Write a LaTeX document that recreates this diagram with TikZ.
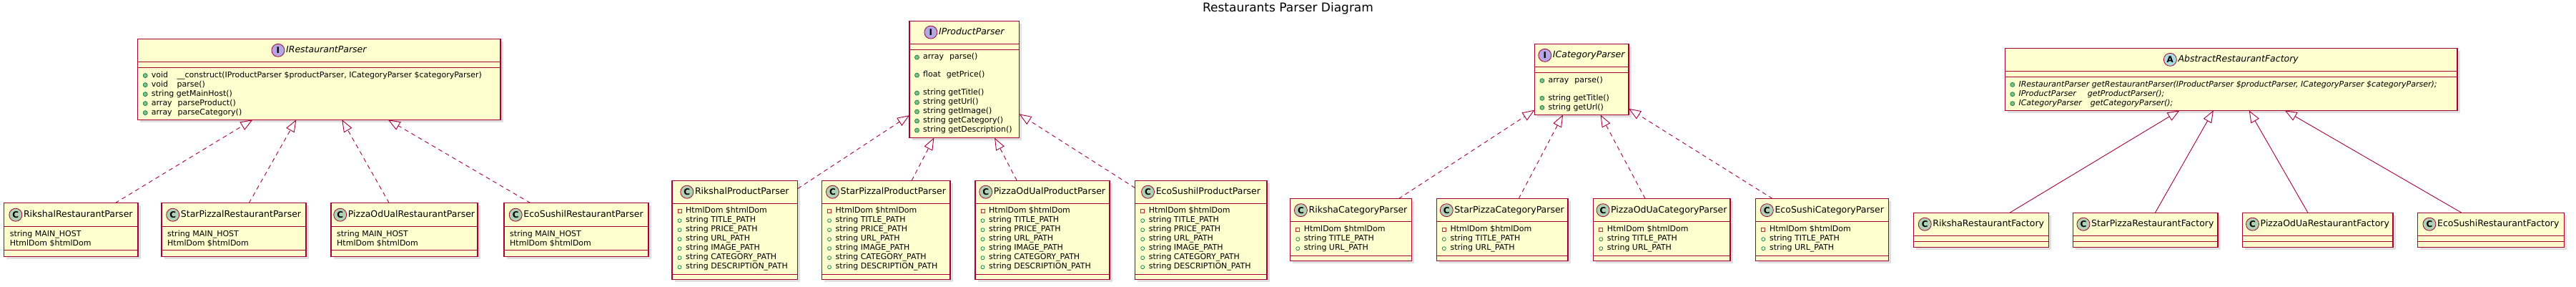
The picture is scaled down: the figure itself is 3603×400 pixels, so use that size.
\documentclass[tikz,border=0pt]{standalone}
\usepackage{fontspec}
\setmainfont{DejaVu Sans}
\usepackage{tikz}
\usetikzlibrary{positioning}
\usetikzlibrary{arrows.meta}
\usetikzlibrary{shadows}

\definecolor{umlred}{HTML}{A80036}
\definecolor{umlfill}{HTML}{FEFECE}
\definecolor{iconC}{HTML}{ADD1B2}
\definecolor{iconI}{HTML}{B4A7E5}
\definecolor{iconA}{HTML}{A9DCDF}
\definecolor{pubdark}{HTML}{038048}
\definecolor{pubfill}{HTML}{84BE84}
\definecolor{privred}{HTML}{C82930}

\tikzset{
    classbox/.style={draw=umlred, fill=umlfill, line width=1.1pt,
        inner sep=0pt, outer sep=0pt,
        drop shadow={shadow xshift=3.5pt, shadow yshift=-3.5pt, fill=black, opacity=0.12}},
    classname/.style={font=\fontsize{12.5}{14}\selectfont, inner sep=0pt,
        text height=9.5pt, text depth=2.5pt},
    ifacename/.style={classname, font=\fontsize{12.5}{14}\selectfont\itshape},
    classicon/.style={circle, draw=umlred, line width=0.8pt, minimum size=18pt,
        inner sep=0pt, font=\fontsize{12}{12}\selectfont\bfseries},
    member/.style={anchor=west, inner sep=0pt, font=\fontsize{11}{13}\selectfont,
        text height=8pt, text depth=2.5pt},
    pubfield/.style={circle, draw=pubdark, line width=0.7pt, minimum size=5pt, inner sep=0pt},
    privfield/.style={rectangle, draw=privred, line width=0.7pt, minimum size=5pt, inner sep=0pt},
    pubmethod/.style={circle, draw=pubdark, fill=pubfill, line width=0.7pt, minimum size=6pt, inner sep=0pt},
    sepline/.style={draw=umlred, line width=1.1pt},
    realize/.style={draw=umlred, line width=0.9pt, dash pattern=on 6pt off 5pt,
        -{Triangle[open, length=17pt, width=13pt]}},
    inherit/.style={draw=umlred, line width=0.9pt,
        -{Triangle[open, length=17pt, width=13pt]}}
}

\begin{document}
\begin{tikzpicture}[x=1pt, y=-1pt]
        \useasboundingbox (0,0) rectangle (3603,400);

        \node[font=\fontsize{17}{20}\selectfont] (title) at (1801.5, 11.5)
        {Restaurants Parser Diagram};

        % interfaces and abstract class
        \node[classbox, minimum width=507.3pt, minimum height=113pt] (irp) at (446.35, 110.8) {};
        \node[ifacename] (irp-t) at ([xshift=10pt, yshift=-16pt]irp.north) {IRestaurantParser};
        \node[classicon, fill=iconI] at ([xshift=-11pt]irp-t.west) {I};
        \draw[sepline] ([yshift=-32pt]irp.north west) -- ([yshift=-32pt]irp.north east);
        \draw[sepline] ([yshift=-40pt]irp.north west) -- ([yshift=-40pt]irp.north east);
        \foreach \k/\txt in {0/{void\hspace{12.5pt}\_\_construct(IProductParser \$productParser, ICategoryParser \$categoryParser)},
                             1/{void\hspace{12.5pt}parse()},
                             2/{string getMainHost()},
                             3/{array\hspace{8pt}parseProduct()},
                             4/{array\hspace{8pt}parseCategory()}}
        {
            \node[pubmethod] at ([xshift=10.5pt, yshift={-51.3pt-13pt*\k}]irp.north west) {};
            \node[member] at ([xshift=19pt, yshift={-51.3pt-13pt*\k}]irp.north west) {\txt};
        }

        \node[classbox, minimum width=153.5pt, minimum height=163.4pt] (ipp) at (1348.75, 110.8) {};
        \node[ifacename] (ipp-t) at ([xshift=10pt, yshift=-16pt]ipp.north) {IProductParser};
        \node[classicon, fill=iconI] at ([xshift=-11pt]ipp-t.west) {I};
        \draw[sepline] ([yshift=-32.4pt]ipp.north west) -- ([yshift=-32.4pt]ipp.north east);
        \draw[sepline] ([yshift=-40pt]ipp.north west) -- ([yshift=-40pt]ipp.north east);
        \foreach \y/\txt in {51/{array\hspace{8pt}parse()}, 76/{float\hspace{8pt}getPrice()},
                             101/{string getTitle()}, 114/{string getUrl()}, 127/{string getImage()},
                             140/{string getCategory()}, 153/{string getDescription()}}
        {
            \node[pubmethod] at ([xshift=10.5pt, yshift=-\y pt]ipp.north west) {};
            \node[member] at ([xshift=19pt, yshift=-\y pt]ipp.north west) {\txt};
        }

        \node[classbox, minimum width=131.6pt, minimum height=99pt] (icp) at (2212.2, 110.8) {};
        \node[ifacename] (icp-t) at ([xshift=10pt, yshift=-16pt]icp.north) {ICategoryParser};
        \node[classicon, fill=iconI] at ([xshift=-11pt]icp-t.west) {I};
        \draw[sepline] ([yshift=-32pt]icp.north west) -- ([yshift=-32pt]icp.north east);
        \draw[sepline] ([yshift=-40.4pt]icp.north west) -- ([yshift=-40.4pt]icp.north east);
        \foreach \y/\txt in {51.4/{array\hspace{8pt}parse()}, 76/{string getTitle()}, 89/{string getUrl()}}
        {
            \node[pubmethod] at ([xshift=10.5pt, yshift=-\y pt]icp.north west) {};
            \node[member] at ([xshift=19pt, yshift=-\y pt]icp.north west) {\txt};
        }

        \node[classbox, minimum width=632.7pt, minimum height=87pt] (arf) at (3120.65, 110.8) {};
        \node[ifacename] (arf-t) at ([xshift=10pt, yshift=-16pt]arf.north) {AbstractRestaurantFactory};
        \node[classicon, fill=iconA] at ([xshift=-11pt]arf-t.west) {A};
        \draw[sepline] ([yshift=-32pt]arf.north west) -- ([yshift=-32pt]arf.north east);
        \draw[sepline] ([yshift=-40.4pt]arf.north west) -- ([yshift=-40.4pt]arf.north east);
        \foreach \y/\txt in {51/{IRestaurantParser getRestaurantParser(IProductParser \$productParser, ICategoryParser \$categoryParser);},
                             64.4/{IProductParser\hspace{16pt}getProductParser();},
                             77.4/{ICategoryParser\hspace{12pt}getCategoryParser();}}
        {
            \node[pubmethod] at ([xshift=10.5pt, yshift=-\y pt]arf.north west) {};
            \node[member, font=\fontsize{11}{13}\selectfont\itshape] at ([xshift=19pt, yshift=-\y pt]arf.north west) {\txt};
        }

        % restaurant parsers
        \foreach \n/\x/\w/\t in {rp1/99.3/187.4/RikshalRestaurantParser,
                                 rp2/327/202/StarPizzalRestaurantParser,
                                 rp3/565.5/205/PizzaOdUalRestaurantParser,
                                 rp4/806/202/EcoSushilRestaurantParser}
        {
            \node[classbox, minimum width=\w pt, minimum height=75pt] (\n) at (\x, 321.2) {};
            \node[classname] (\n-t) at ([xshift=10pt, yshift=-16.5pt]\n.north) {\t};
            \node[classicon, fill=iconC] at ([xshift=-11pt]\n-t.west) {C};
            \draw[sepline] ([yshift=-33pt]\n.north west) -- ([yshift=-33pt]\n.north east);
            \draw[sepline] ([yshift=-66pt]\n.north west) -- ([yshift=-66pt]\n.north east);
            \node[member] at ([xshift=8pt, yshift=-44pt]\n.north west) {string MAIN\_HOST};
            \node[member] at ([xshift=8pt, yshift=-57pt]\n.north west) {HtmlDom \$htmlDom};
        }

        % product parsers
        \foreach \n/\x/\w/\t in {pp1/1027.8/175.6/RikshalProductParser,
                                 pp2/1239.25/179.5/StarPizzalProductParser,
                                 pp3/1458/188/PizzaOdUalProductParser,
                                 pp4/1679.85/184.3/EcoSushilProductParser}
        {
            \node[classbox, minimum width=\w pt, minimum height=138pt] (\n) at (\x, 321.2) {};
            \node[classname] (\n-t) at ([xshift=10pt, yshift=-16pt]\n.north) {\t};
            \node[classicon, fill=iconC] at ([xshift=-11pt]\n-t.west) {C};
            \draw[sepline] ([yshift=-32pt]\n.north west) -- ([yshift=-32pt]\n.north east);
            \draw[sepline] ([yshift=-131pt]\n.north west) -- ([yshift=-131pt]\n.north east);
            \node[privfield] at ([xshift=10.5pt, yshift=-43pt]\n.north west) {};
            \node[member] at ([xshift=19pt, yshift=-43pt]\n.north west) {HtmlDom \$htmlDom};
            \foreach \k/\f in {1/TITLE, 2/PRICE, 3/URL, 4/IMAGE, 5/CATEGORY, 6/DESCRIPTION}
            {
                \node[pubfield] at ([xshift=10.5pt, yshift={-43pt-13pt*\k}]\n.north west) {};
                \node[member] at ([xshift=19pt, yshift={-43pt-13pt*\k}]\n.north west) {string \f\_PATH};
            }
        }

        % category parsers
        \foreach \n/\x/\w/\t in {cp1/1889.45/169.5/RikshaCategoryParser,
                                 cp2/2101.15/183.7/StarPizzaCategoryParser,
                                 cp3/2324.35/191.3/PizzaOdUaCategoryParser,
                                 cp4/2548.75/185.9/EcoSushiCategoryParser}
        {
            \node[classbox, minimum width=\w pt, minimum height=87pt] (\n) at (\x, 321.2) {};
            \node[classname] (\n-t) at ([xshift=10pt, yshift=-16pt]\n.north) {\t};
            \node[classicon, fill=iconC] at ([xshift=-11pt]\n-t.west) {C};
            \draw[sepline] ([yshift=-32pt]\n.north west) -- ([yshift=-32pt]\n.north east);
            \draw[sepline] ([yshift=-80pt]\n.north west) -- ([yshift=-80pt]\n.north east);
            \node[privfield] at ([xshift=10.5pt, yshift=-43.5pt]\n.north west) {};
            \node[member] at ([xshift=19pt, yshift=-43.5pt]\n.north west) {HtmlDom \$htmlDom};
            \node[pubfield] at ([xshift=10.5pt, yshift=-56.5pt]\n.north west) {};
            \node[member] at ([xshift=19pt, yshift=-56.5pt]\n.north west) {string TITLE\_PATH};
            \node[pubfield] at ([xshift=10.5pt, yshift=-69.5pt]\n.north west) {};
            \node[member] at ([xshift=19pt, yshift=-69.5pt]\n.north west) {string URL\_PATH};
        }

        % factories
        \foreach \n/\x/\w/\t in {rf1/2771.2/189/RikshaRestaurantFactory,
                                 rf2/3000.75/202.5/StarPizzaRestaurantFactory,
                                 rf3/3241.8/210.4/PizzaOdUaRestaurantFactory,
                                 rf4/3484.25/205.1/EcoSushiRestaurantFactory}
        {
            \node[classbox, minimum width=\w pt, minimum height=48pt] (\n) at (\x, 321.2) {};
            \node[classname] (\n-t) at ([xshift=10pt, yshift=-16pt]\n.north) {\t};
            \node[classicon, fill=iconC] at ([xshift=-11pt]\n-t.west) {C};
            \draw[sepline] ([yshift=-32pt]\n.north west) -- ([yshift=-32pt]\n.north east);
            \draw[sepline] ([yshift=-40pt]\n.north west) -- ([yshift=-40pt]\n.north east);
        }

        % relations
        \foreach \c in {rp1, rp2, rp3, rp4}
            \draw[realize] (\c) -- (irp);
        \foreach \c in {pp1, pp2, pp3, pp4}
            \draw[realize] (\c) -- (ipp);
        \foreach \c in {cp1, cp2, cp3, cp4}
            \draw[realize] (\c) -- (icp);
        \foreach \c in {rf1, rf2, rf3, rf4}
            \draw[inherit] (\c) -- (arf);
\end{tikzpicture}
\end{document}
